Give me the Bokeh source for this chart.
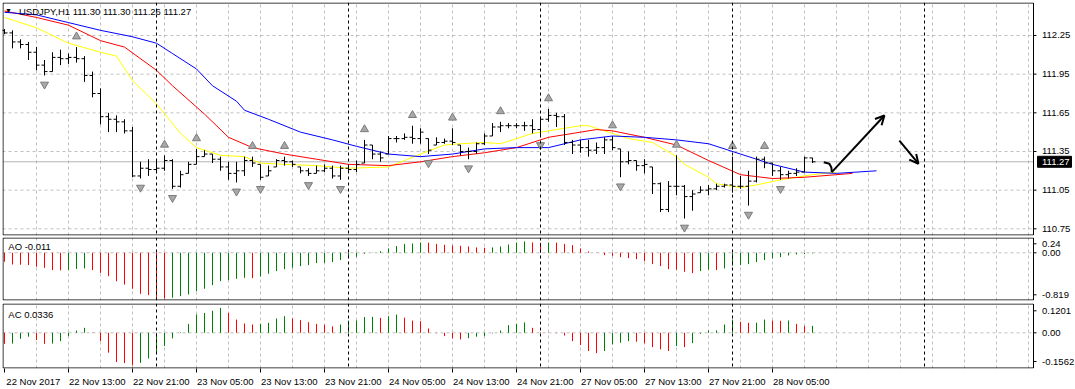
from bokeh.plotting import figure
from bokeh.layouts import column
from bokeh.models import (Range1d, FixedTicker, Span, Label,
                          Arrow, OpenHead, ColumnDataSource)
from bokeh.core.properties import value
from bokeh.embed import file_html
from bokeh.resources import INLINE

FONT = "Liberation Sans"
FS = "9.5px"

# ---------------- data ----------------
symbol_text = "USDJPY,H1  111.30 111.30 111.26 111.27"
bar_open = [112.29, 112.27, 112.20, 112.18, 112.12, 112.02, 111.97, 112.08, 112.07, 112.08,
            112.07, 111.94, 111.80, 111.62, 111.60, 111.58, 111.51, 111.16, 111.22, 111.21,
            111.22, 111.28, 111.08, 111.18, 111.25, 111.31, 111.33, 111.29, 111.23, 111.18,
            111.20, 111.28, 111.25, 111.16, 111.23, 111.28, 111.27, 111.23, 111.20, 111.18,
            111.20, 111.22, 111.16, 111.22, 111.21, 111.26, 111.40, 111.33, 111.33, 111.45,
            111.45, 111.46, 111.45, 111.45, 111.40, 111.42, 111.43, 111.40, 111.35, 111.35,
            111.41, 111.47, 111.54, 111.55, 111.55, 111.55, 111.55, 111.52, 111.60, 111.63,
            111.62, 111.42, 111.40, 111.38, 111.36, 111.38, 111.44, 111.37, 111.27, 111.28,
            111.24, 111.23, 111.10, 110.90, 111.08, 111.08, 111.00, 111.03, 111.05, 111.06,
            111.08, 111.09, 111.08, 111.08, 111.12, 111.29, 111.26, 111.20, 111.17, 111.18,
            111.19, 111.30]
bar_high = [112.30, 112.29, 112.22, 112.20, 112.16, 112.06, 112.12, 112.14, 112.11, 112.16,
            112.09, 111.97, 111.84, 111.65, 111.63, 111.60, 111.54, 111.27, 111.29, 111.29,
            111.32, 111.29, 111.20, 111.27, 111.37, 111.36, 111.33, 111.31, 111.27, 111.27,
            111.31, 111.31, 111.25, 111.24, 111.29, 111.31, 111.28, 111.23, 111.22, 111.24,
            111.25, 111.24, 111.24, 111.25, 111.28, 111.44, 111.40, 111.35, 111.47, 111.47,
            111.49, 111.55, 111.53, 111.45, 111.46, 111.45, 111.53, 111.40, 111.38, 111.42,
            111.49, 111.57, 111.58, 111.57, 111.57, 111.58, 111.60, 111.62, 111.68, 111.65,
            111.64, 111.44, 111.44, 111.44, 111.42, 111.46, 111.47, 111.37, 111.35, 111.28,
            111.29, 111.23, 111.11, 111.12, 111.32, 111.09, 111.05, 111.08, 111.09, 111.10,
            111.10, 111.31, 111.16, 111.20, 111.31, 111.31, 111.26, 111.23, 111.20, 111.22,
            111.31, 111.30]
bar_low = [112.26, 112.15, 112.15, 112.06, 111.98, 111.94, 111.97, 112.02, 112.03, 112.04,
           111.89, 111.77, 111.56, 111.50, 111.50, 111.49, 111.15, 111.14, 111.16, 111.19,
           111.20, 111.06, 111.07, 111.18, 111.25, 111.31, 111.26, 111.20, 111.13, 111.11,
           111.16, 111.23, 111.13, 111.16, 111.23, 111.24, 111.23, 111.18, 111.16, 111.18,
           111.19, 111.14, 111.13, 111.20, 111.19, 111.26, 111.29, 111.27, 111.33, 111.42,
           111.44, 111.41, 111.41, 111.33, 111.40, 111.41, 111.40, 111.32, 111.29, 111.33,
           111.40, 111.47, 111.50, 111.53, 111.53, 111.51, 111.49, 111.47, 111.58, 111.54,
           111.40, 111.33, 111.34, 111.31, 111.33, 111.33, 111.36, 111.15, 111.25, 111.20,
           111.18, 111.02, 110.88, 110.88, 111.01, 110.83, 110.89, 111.03, 111.01, 111.05,
           111.07, 111.03, 111.06, 110.93, 111.11, 111.22, 111.16, 111.13, 111.14, 111.16,
           111.19, 111.26]
bar_close = [112.27, 112.20, 112.18, 112.12, 112.02, 111.97, 112.08, 112.07, 112.08, 112.07,
             111.94, 111.80, 111.62, 111.60, 111.58, 111.51, 111.16, 111.22, 111.21, 111.22,
             111.28, 111.08, 111.17, 111.25, 111.31, 111.33, 111.29, 111.23, 111.18, 111.20,
             111.28, 111.26, 111.15, 111.20, 111.28, 111.27, 111.25, 111.20, 111.18, 111.20,
             111.22, 111.16, 111.22, 111.21, 111.25, 111.40, 111.33, 111.30, 111.45, 111.45,
             111.46, 111.45, 111.50, 111.36, 111.42, 111.43, 111.42, 111.35, 111.35, 111.41,
             111.47, 111.54, 111.55, 111.55, 111.55, 111.55, 111.52, 111.60, 111.63, 111.62,
             111.42, 111.40, 111.38, 111.36, 111.38, 111.44, 111.38, 111.27, 111.28, 111.24,
             111.25, 111.10, 110.90, 111.08, 111.08, 111.00, 111.02, 111.05, 111.06, 111.08,
             111.09, 111.08, 111.08, 111.12, 111.29, 111.26, 111.20, 111.17, 111.18, 111.19,
             111.30, 111.27]

fractal_up_bars = [9, 20, 24, 31, 35, 45, 51, 56, 62, 68, 76, 84, 91, 95]
fractal_down_bars = [5, 17, 21, 29, 32, 38, 42, 53, 58, 67, 77, 85, 93, 97]

jaw_x = [0, 4, 8, 12, 16, 19, 21, 24, 26, 29, 30, 33, 37, 41, 44, 48, 52, 56, 60, 64,
         68, 72, 76, 80, 84, 88, 92, 96, 100, 104, 109]
jaw_y = [112.43, 112.41, 112.35, 112.29, 112.24, 112.19, 112.11, 111.99, 111.86, 111.74,
         111.67, 111.60, 111.50, 111.44, 111.39, 111.33, 111.31, 111.33, 111.37, 111.38,
         111.38, 111.44, 111.47, 111.46, 111.44, 111.41, 111.33, 111.25, 111.19, 111.18, 111.20]
teeth_x = [0, 4, 8, 12, 15, 19, 21, 25, 28, 31, 35, 39, 43, 48, 52, 56, 60, 64, 68, 72,
           74, 76, 80, 84, 88, 92, 96, 100, 104, 106]
teeth_y = [112.44, 112.39, 112.33, 112.21, 112.16, 111.98, 111.86, 111.64, 111.46, 111.38,
           111.33, 111.29, 111.25, 111.24, 111.27, 111.31, 111.34, 111.38, 111.46, 111.50,
           111.52, 111.51, 111.46, 111.40, 111.28, 111.17, 111.14, 111.15, 111.17, 111.18]
lips_x = [0, 4, 8, 12, 14, 16, 19, 22, 24, 27, 30, 32, 35, 39, 43, 48, 50, 52, 55, 57,
          60, 62, 66, 68, 72, 73, 76, 78, 81, 84, 85, 88, 89, 92, 94, 97, 101, 104]
lips_y = [112.39, 112.31, 112.19, 112.12, 112.09, 111.90, 111.72, 111.49, 111.38, 111.32,
          111.31, 111.26, 111.25, 111.24, 111.22, 111.23, 111.28, 111.33, 111.40, 111.41,
          111.42, 111.41, 111.49, 111.51, 111.55, 111.55, 111.49, 111.45, 111.42, 111.31,
          111.25, 111.15, 111.10, 111.07, 111.09, 111.13, 111.17, 111.19]

ao_values = [-0.160, -0.210, -0.215, -0.220, -0.250, -0.270, -0.310, -0.315, -0.310, -0.290,
             -0.280, -0.310, -0.360, -0.420, -0.510, -0.570, -0.645, -0.735, -0.760, -0.810,
             -0.819, -0.806, -0.777, -0.747, -0.687, -0.645, -0.579, -0.508, -0.490, -0.466,
             -0.448, -0.454, -0.424, -0.376, -0.329, -0.293, -0.269, -0.239, -0.221, -0.185,
             -0.180, -0.167, -0.131, -0.090, -0.072, -0.018, 0.005, 0.030, 0.078, 0.120,
             0.160, 0.167, 0.185, 0.180, 0.160, 0.143, 0.131, 0.125, 0.113, 0.096,
             0.090, 0.096, 0.113, 0.149, 0.185, 0.203, 0.185, 0.180, 0.185, 0.182,
             0.160, 0.137, 0.078, 0.024, 0.006, -0.042, -0.054, -0.078, -0.096, -0.114,
             -0.149, -0.203, -0.239, -0.293, -0.305, -0.340, -0.364, -0.329, -0.305, -0.310,
             -0.281, -0.233, -0.221, -0.203, -0.167, -0.131, -0.102, -0.078, -0.048, -0.030,
             -0.024, -0.011]
ac_values = [-0.053, -0.052, -0.029, -0.019, -0.035, -0.053, -0.052, -0.040, -0.016, 0.011,
             0.024, 0.002, -0.040, -0.096, -0.141, -0.146, -0.1562, -0.145, -0.124, -0.096,
             -0.064, -0.027, 0.003, 0.043, 0.088, 0.096, 0.106, 0.1201, 0.096, 0.064,
             0.045, 0.040, 0.043, 0.048, 0.069, 0.080, 0.069, 0.061, 0.051, 0.043,
             0.039, 0.031, 0.040, 0.059, 0.060, 0.076, 0.077, 0.072, 0.080, 0.088,
             0.073, 0.059, 0.056, 0.021, -0.002, -0.016, -0.027, -0.032, -0.026, -0.019,
             -0.016, -0.003, 0.011, 0.037, 0.043, 0.050, 0.024, 0.003, 0.001, -0.002,
             -0.013, -0.040, -0.059, -0.088, -0.098, -0.088, -0.056, -0.048, -0.040, -0.043,
             -0.051, -0.069, -0.080, -0.088, -0.064, -0.069, -0.050, -0.005, 0.011, 0.012,
             0.040, 0.064, 0.053, 0.048, 0.049, 0.064, 0.059, 0.058, 0.0595, 0.043,
             0.032, 0.0336]

time_labels = ["22 Nov 2017", "22 Nov 13:00", "22 Nov 21:00", "23 Nov 05:00", "23 Nov 13:00",
               "23 Nov 21:00", "24 Nov 05:00", "24 Nov 13:00", "24 Nov 21:00", "27 Nov 05:00",
               "27 Nov 13:00", "27 Nov 21:00", "28 Nov 05:00"]
label_bars = [0, 8, 16, 24, 32, 40, 48, 56, 64, 72, 80, 88, 96]
separator_bars = [19, 43, 67, 91, 115]
price_ticks = [110.75, 111.05, 111.35, 111.65, 111.95, 112.25]
last_price = 111.27
ao_label = "AO -0.011"
ac_label = "AC 0.0336"
ao_axis_labels = ["0.24", "0.00", "-0.819"]
ac_axis_labels = ["0.1201", "0.00", "-0.1562"]

# hand-drawn arrows (bar index, price)
hook_x = [102.41, 103.11, 103.36, 103.41]
hook_y = [111.267, 111.255, 111.226, 111.19]
arrow_up = (103.41, 111.19, 109.99, 111.629)
arrow_down = (111.86, 111.435, 114.24, 111.255)

# ---------------- styles / geometry ----------------
GRID = "#c0c0c0"
GREEN = "#008000"
RED = "#ff0000"
PX = 8.0                      # pixels per bar
X0 = -0.25                    # left edge of every frame (bar units)
X_EDGE = 128.625              # right edge of the chart area (bar units)
X_END = X0 + (1075 - 2) / PX  # right edge of the frame (includes the scale column)

n = len(bar_close)
idx = list(range(n))
xr = Range1d(X0, X_END)
grid_ticks = list(range(4, 129, 4))
LAB_X = X_EDGE + 8.5 / PX
TICK_X1 = X_EDGE + 3.0 / PX


def make_panel(height, top, bottom, ylo, yhi, frame_h, xloc=None):
    f = figure(width=1075, height=height, x_range=xr, y_range=Range1d(ylo, yhi),
               x_axis_location=xloc, y_axis_location=None,
               output_backend="svg", toolbar_location=None,
               min_border_left=2, min_border_right=0,
               min_border_top=top, min_border_bottom=bottom,
               background_fill_color="white", border_fill_color="white",
               outline_line_color=None)
    f.xgrid.ticker = FixedTicker(ticks=grid_ticks)
    f.xgrid.grid_line_color = GRID
    f.xgrid.grid_line_dash = "3 3"
    f.ygrid.visible = False
    for b in separator_bars:
        f.add_layout(Span(location=b, dimension="height", line_color="black",
                          line_dash="3 3", line_width=1))
    ppu = frame_h / (yhi - ylo)
    return f, ppu


def add_border(f, ylo, yhi, ppu):
    y_top = yhi - 0.5 / ppu
    y_bot = ylo + 0.5 / ppu
    x_left = X0 + 0.5 / PX
    f.segment(x0=[x_left, x_left, x_left, X_EDGE], y0=[y_bot, y_top, y_bot, y_bot],
              x1=[X_EDGE, X_EDGE, x_left, X_EDGE], y1=[y_bot, y_top, y_top, y_top],
              line_color="black", line_width=1)


def add_scale(f, pos, labels):
    f.segment(x0=[X_EDGE] * len(pos), y0=pos, x1=[TICK_X1] * len(pos), y1=pos,
              line_color="black", line_width=1)
    f.text(x=[LAB_X] * len(pos), y=pos, text=labels,
           text_font=value(FONT), text_font_size=FS, text_color="black",
           text_baseline="middle", text_align="left")


# ---------------- main price panel ----------------
Y_LO, Y_HI = 110.698, 112.506
p1, ppu1 = make_panel(236, 2, 1, Y_LO, Y_HI, 233)

p1.segment(x0=[X0] * len(price_ticks), y0=price_ticks, x1=[X_EDGE] * len(price_ticks),
           y1=price_ticks, line_color=GRID, line_dash="3 3", line_width=1)
p1.segment(x0=[X0], y0=[last_price], x1=[X_EDGE], y1=[last_price],
           line_color="#b4b4b4", line_width=1)

src = ColumnDataSource(dict(x=idx, o=bar_open, h=bar_high, l=bar_low, c=bar_close,
                            xl=[i - 0.375 for i in idx], xr=[i + 0.375 for i in idx]))
p1.line(lips_x, lips_y, line_color="#ffff00", line_width=1)
p1.line(teeth_x, teeth_y, line_color="#ff0000", line_width=1)
p1.line(jaw_x, jaw_y, line_color="#0000ff", line_width=1)
p1.segment(x0="x", y0="l", x1="x", y1="h", source=src, line_color="black", line_width=1)
p1.segment(x0="xl", y0="o", x1="x", y1="o", source=src, line_color="black", line_width=1)
p1.segment(x0="x", y0="c", x1="xr", y1="c", source=src, line_color="black", line_width=1)

up_y = [bar_high[i] + 10.5 / ppu1 for i in fractal_up_bars]
dn_y = [bar_low[i] - 9.0 / ppu1 for i in fractal_down_bars]
p1.scatter(fractal_up_bars, up_y, marker="triangle", size=8,
           fill_color="#a8a8a8", line_color="#7a7a7a", line_width=1)
p1.scatter(fractal_down_bars, dn_y, marker="inverted_triangle", size=8,
           fill_color="#a8a8a8", line_color="#7a7a7a", line_width=1)

p1.line(hook_x, hook_y, line_color="black", line_width=2)
for (xs, ys, xe, ye) in (arrow_up, arrow_down):
    p1.add_layout(Arrow(end=OpenHead(size=9, line_width=2, line_color="black"),
                        x_start=xs, y_start=ys, x_end=xe, y_end=ye,
                        line_color="black", line_width=2))

add_border(p1, Y_LO, Y_HI, ppu1)
add_scale(p1, price_ticks, ["%.2f" % v for v in price_ticks])
half_h = 5.5 / ppu1
p1.quad(left=[X_EDGE + 4.0 / PX], right=[X_EDGE + 38.0 / PX],
        bottom=[last_price - half_h], top=[last_price + half_h],
        fill_color="black", line_color="black")
p1.text(x=[LAB_X], y=[last_price], text=["%.2f" % last_price],
        text_font=value(FONT), text_font_size=FS, text_color="white",
        text_baseline="middle", text_align="left")

p1.add_layout(Label(x=0.5, y=112.445, text="\u25bc", text_font=FONT, text_font_size="7px",
                    text_color="black", text_align="center", text_baseline="middle"))
p1.add_layout(Label(x=1.81, y=112.44, text=symbol_text, text_font=FONT, text_font_size=FS,
                    text_color="black", text_baseline="middle"))

# ---------------- AO panel ----------------
AO_LO, AO_HI = -0.855, 0.274
p2, ppu2 = make_panel(66, 1, 2, AO_LO, AO_HI, 63)
p2.segment(x0=[X0], y0=[0], x1=[X_EDGE], y1=[0], line_color=GRID, line_dash="3 3")
ao_col = [RED] + [GREEN if ao_values[i] > ao_values[i - 1] else RED for i in range(1, n)]
p2.segment(x0=idx, y0=[0] * n, x1=idx, y1=ao_values, line_color=ao_col, line_width=1)
add_border(p2, AO_LO, AO_HI, ppu2)
add_scale(p2, [0.1613, 0.0, -0.7527], ao_axis_labels)
p2.add_layout(Label(x=0.475, y=0.118, text=ao_label, text_font=FONT, text_font_size=FS,
                    text_color="black", text_baseline="middle"))

# ---------------- AC panel ----------------
AC_LO, AC_HI = -0.1721, 0.1413
p3, ppu3 = make_panel(87, 1, 21, AC_LO, AC_HI, 65, xloc="below")
p3.segment(x0=[X0], y0=[0], x1=[X_EDGE], y1=[0], line_color=GRID, line_dash="3 3")
ac_col = [RED] + [GREEN if ac_values[i] > ac_values[i - 1] else RED for i in range(1, n)]
p3.segment(x0=idx, y0=[0] * n, x1=idx, y1=ac_values, line_color=ac_col, line_width=1)
add_border(p3, AC_LO, AC_HI, ppu3)
add_scale(p3, [0.1061, 0.0, -0.1384], ac_axis_labels)
p3.add_layout(Label(x=0.475, y=0.0882, text=ac_label, text_font=FONT, text_font_size=FS,
                    text_color="black", text_baseline="middle"))

label_pos = [b + 3.6 for b in label_bars]
xa = p3.xaxis[0]
xa.ticker = FixedTicker(ticks=label_pos, minor_ticks=label_bars)
xa.major_label_overrides = {k: v for k, v in zip(label_pos, time_labels)}
xa.axis_line_color = None
xa.major_tick_line_color = None
xa.major_tick_in = 0
xa.major_tick_out = 0
xa.minor_tick_in = 0
xa.minor_tick_out = 4
xa.minor_tick_line_color = "black"
xa.major_label_standoff = 3
xa.major_label_text_font = FONT
xa.major_label_text_font_size = FS
xa.major_label_text_color = "black"

layout = column(p1, p2, p3, spacing=0)
open("out.html", "w").write(file_html(layout, INLINE))
